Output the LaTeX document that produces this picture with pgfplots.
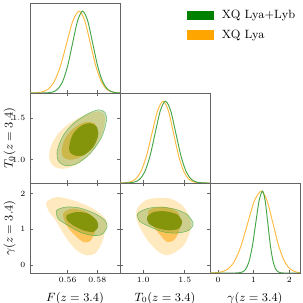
\documentclass[border=0pt]{standalone}
\usepackage{pgfplots}
\pgfplotsset{compat=1.18}
\definecolor{oL}{RGB}{255,233,191}
\definecolor{oD}{RGB}{255,196,89}
\definecolor{gL}{RGB}{110,160,50}
\definecolor{gD}{RGB}{120,142,0}
\definecolor{gEdge}{RGB}{60,170,60}
\definecolor{frm}{RGB}{100,100,100}
\definecolor{lineG}{RGB}{70,165,70}
\definecolor{lineO}{RGB}{255,185,60}
\definecolor{legG}{RGB}{0,128,0}
\definecolor{legO}{RGB}{255,165,0}
\pgfplotsset{
  cp/.style={width=67.5pt,height=67.5pt,scale only axis,anchor=south west,
    axis line style={frm,line width=0.6pt},
    tick align=inside, major tick length=2.5pt, tick style={frm,line width=0.5pt},
    ticklabel style={font=\fontsize{6.3}{7}\selectfont},
    label style={font=\small},
    ylabel style={at={(axis description cs:-0.225,0.5)},anchor=center},
    minor tick num=0},
  o95/.style={fill=oL,draw=none},
  o68/.style={fill=oD,draw=none},
  g95/.style={fill=gL,fill opacity=0.35,draw=gEdge,draw opacity=0.7,line width=0.4pt},
  g68/.style={fill=gD,fill opacity=0.85,draw=none},
  colF/.style={xmin=0.5346,xmax=0.5953,xtick={0.56,0.58},
    xticklabel style={/pgf/number format/.cd,fixed,fixed zerofill,precision=2}},
  colT/.style={xmin=0.721,xmax=1.803,xtick={1.0,1.5},
    xticklabel style={/pgf/number format/.cd,fixed,fixed zerofill,precision=1}},
  colG/.style={xmin=-0.223,xmax=2.30,xtick={0,1,2}},
  rowT/.style={ymin=0.721,ymax=1.803,ytick={1.0,1.5},
    yticklabel style={/pgf/number format/.cd,fixed,fixed zerofill,precision=1}},
  rowG/.style={ymin=-0.223,ymax=2.30,ytick={0,1,2}},
  marg/.style={ymin=0,ymax=1.1,ytick=\empty,xtick pos=bottom},
}
\begin{document}
\begin{tikzpicture}
\path[use as bounding box] (0,0) rectangle (227.25pt,227.25pt);
% top-left marginal F
\begin{axis}[cp,colF,marg,at={(22.5pt,157.5pt)},xticklabels={},
  legend style={at={(rel axis cs:1.70,0.985)},anchor=north west,draw=none,fill=none,
    font=\small,row sep=3pt},
  legend cell align=left,
  legend image code/.code={\fill[#1] (0pt,-3.4pt) rectangle (20pt,3.4pt); \path (24pt,0pt);}]
\addlegendimage{fill=legG,draw=none}
\addlegendentry{XQ Lya+Lyb}
\addlegendimage{fill=legO,draw=none}
\addlegendentry{XQ Lya}
\addplot[lineO,line width=0.7pt,smooth] coordinates {(0.5346,0.0005) (0.53805,0.0022) (0.5423,0.0111) (0.54655,0.0439) (0.5508,0.1353) (0.55505,0.3247) (0.5593,0.6065) (0.56355,0.8825) (0.5678,1) (0.57155,0.8825) (0.5753,0.6065) (0.57905,0.3247) (0.5828,0.1353) (0.58655,0.0439) (0.5903,0.0111) (0.59405,0.0022) (0.5953,0.001)};
\addplot[lineG,line width=0.7pt,smooth] coordinates {(0.5346,0) (0.5429,0.0003) (0.5463,0.0022) (0.5497,0.0111) (0.5531,0.0439) (0.5565,0.1353) (0.5599,0.3247) (0.5633,0.6065) (0.5667,0.8825) (0.5701,1) (0.5735,0.8825) (0.5769,0.6065) (0.5803,0.3247) (0.5837,0.1353) (0.5871,0.0439) (0.5905,0.0111) (0.5939,0.0022) (0.5953,0.001)};
\end{axis}
% F - T0
\begin{axis}[cp,colF,rowT,at={(22.5pt,90pt)},xticklabels={},ylabel={$T_0(z=3.4)$}]
\addplot[o95,smooth cycle] coordinates {(0.5476,1.012) (0.5485,1.152) (0.5526,1.292) (0.5593,1.412) (0.5683,1.512) (0.5772,1.572) (0.5829,1.572) (0.5851,1.512) (0.5839,1.352) (0.5795,1.172) (0.5728,1.031) (0.5649,0.932) (0.5570,0.892) (0.5508,0.920)};
\addplot[o68,smooth cycle] coordinates {(0.5559,1.112) (0.5582,1.252) (0.5637,1.373) (0.5716,1.452) (0.5784,1.433) (0.5795,1.313) (0.5761,1.152) (0.5683,1.031) (0.5615,1.000) (0.5570,1.031)};
\addplot[g95,smooth cycle] coordinates {(0.5530,1.112) (0.5570,1.292) (0.5637,1.433) (0.5728,1.545) (0.5806,1.601) (0.5851,1.572) (0.5862,1.472) (0.5829,1.272) (0.5750,1.072) (0.5660,0.952) (0.5582,0.932) (0.5536,0.992)};
\addplot[g68,smooth cycle] coordinates {(0.5611,1.172) (0.5637,1.313) (0.5694,1.412) (0.5750,1.440) (0.5795,1.400) (0.5806,1.292) (0.5772,1.152) (0.5705,1.052) (0.5649,1.052) (0.5615,1.091)};
\end{axis}
% F - gamma
\begin{axis}[cp,colF,rowG,at={(22.5pt,22.5pt)},xlabel={$F(z=3.4)$},ylabel={$\gamma(z=3.4)$}]
\addplot[o95,smooth cycle] coordinates {(0.5458,1.766) (0.5526,1.906) (0.5637,1.814) (0.5772,1.582) (0.5862,1.254) (0.5851,0.926) (0.5829,0.602) (0.5784,0.322) (0.5728,0.274) (0.5660,0.414) (0.5593,0.742) (0.5526,1.206) (0.5469,1.534)};
\addplot[o68,smooth cycle] coordinates {(0.5570,1.442) (0.5637,1.582) (0.5728,1.486) (0.5784,1.254) (0.5784,0.926) (0.5750,0.666) (0.5705,0.646) (0.5649,0.834) (0.5593,1.114)};
\addplot[g95,smooth cycle] coordinates {(0.5526,1.534) (0.5593,1.626) (0.5683,1.598) (0.5784,1.442) (0.5851,1.254) (0.5866,1.066) (0.5829,0.854) (0.5761,0.834) (0.5683,0.926) (0.5593,1.134) (0.5536,1.302)};
\addplot[g68,smooth cycle] coordinates {(0.5593,1.394) (0.5660,1.486) (0.5738,1.442) (0.5795,1.254) (0.5806,1.066) (0.5772,0.926) (0.5705,0.974) (0.5637,1.114) (0.5597,1.254)};
\end{axis}
% T0 marginal
\begin{axis}[cp,colT,marg,at={(90pt,90pt)},xticklabels={}]
\addplot[lineO,line width=0.7pt,smooth] coordinates {(0.721,0.0005) (0.7675,0.0022) (0.835,0.0111) (0.9025,0.0439) (0.97,0.1353) (1.0375,0.3247) (1.105,0.6065) (1.1725,0.8825) (1.24,1) (1.3025,0.8825) (1.365,0.6065) (1.4275,0.3247) (1.49,0.1353) (1.5525,0.0439) (1.615,0.0111) (1.6775,0.0022) (1.74,0.0003) (1.803,0)};
\addplot[lineG,line width=0.7pt,smooth] coordinates {(0.721,0) (0.768,0.0003) (0.8305,0.0022) (0.893,0.0111) (0.9555,0.0439) (1.018,0.1353) (1.0805,0.3247) (1.143,0.6065) (1.2055,0.8825) (1.268,1) (1.3305,0.8825) (1.393,0.6065) (1.4555,0.3247) (1.518,0.1353) (1.5805,0.0439) (1.643,0.0111) (1.7055,0.0022) (1.768,0.0003) (1.803,0)};
\end{axis}
% T0 - gamma
\begin{axis}[cp,colT,rowG,at={(90pt,22.5pt)},yticklabels={},xlabel={$T_0(z=3.4)$}]
\addplot[o95,smooth cycle] coordinates {(0.928,1.582) (1.028,1.814) (1.168,1.878) (1.328,1.862) (1.469,1.674) (1.548,1.394) (1.577,1.114) (1.548,0.834) (1.488,0.554) (1.388,0.366) (1.288,0.274) (1.187,0.366) (1.067,0.646) (0.967,1.022) (0.919,1.302)};
\addplot[o68,smooth cycle] coordinates {(1.067,1.534) (1.187,1.626) (1.328,1.598) (1.428,1.442) (1.448,1.162) (1.428,0.926) (1.368,0.694) (1.288,0.646) (1.208,0.834) (1.127,1.066) (1.067,1.302)};
\addplot[g95,smooth cycle] coordinates {(0.935,1.442) (1.048,1.582) (1.208,1.626) (1.388,1.562) (1.529,1.414) (1.601,1.162) (1.548,0.974) (1.409,0.898) (1.247,0.926) (1.088,1.066) (0.959,1.226)};
\addplot[g68,smooth cycle] coordinates {(1.048,1.346) (1.127,1.486) (1.268,1.506) (1.409,1.414) (1.469,1.206) (1.428,1.022) (1.308,0.974) (1.168,1.038) (1.067,1.162)};
\end{axis}
% gamma marginal
\begin{axis}[cp,colG,marg,at={(157.5pt,22.5pt)},xlabel={$\gamma(z=3.4)$}]
\addplot[lineO,line width=0.7pt,smooth] coordinates {(-0.223,0.0008) (-0.118,0.0022) (0.072,0.0111) (0.262,0.0439) (0.452,0.1353) (0.642,0.3247) (0.832,0.6065) (1.022,0.8825) (1.212,1) (1.377,0.8825) (1.542,0.6065) (1.707,0.3247) (1.872,0.1353) (2.037,0.0439) (2.202,0.0111) (2.30,0.003)};
\addplot[lineG,line width=0.7pt,smooth] coordinates {(-0.223,0) (0.30,0) (0.488,0.0003) (0.583,0.0022) (0.678,0.0111) (0.773,0.0439) (0.868,0.1353) (0.963,0.3247) (1.058,0.6065) (1.153,0.8825) (1.248,1) (1.323,0.8825) (1.398,0.6065) (1.473,0.3247) (1.548,0.1353) (1.623,0.0439) (1.698,0.0111) (1.773,0.0022) (1.848,0.0003) (2.0,0) (2.30,0)};
\end{axis}
\end{tikzpicture}
\end{document}
